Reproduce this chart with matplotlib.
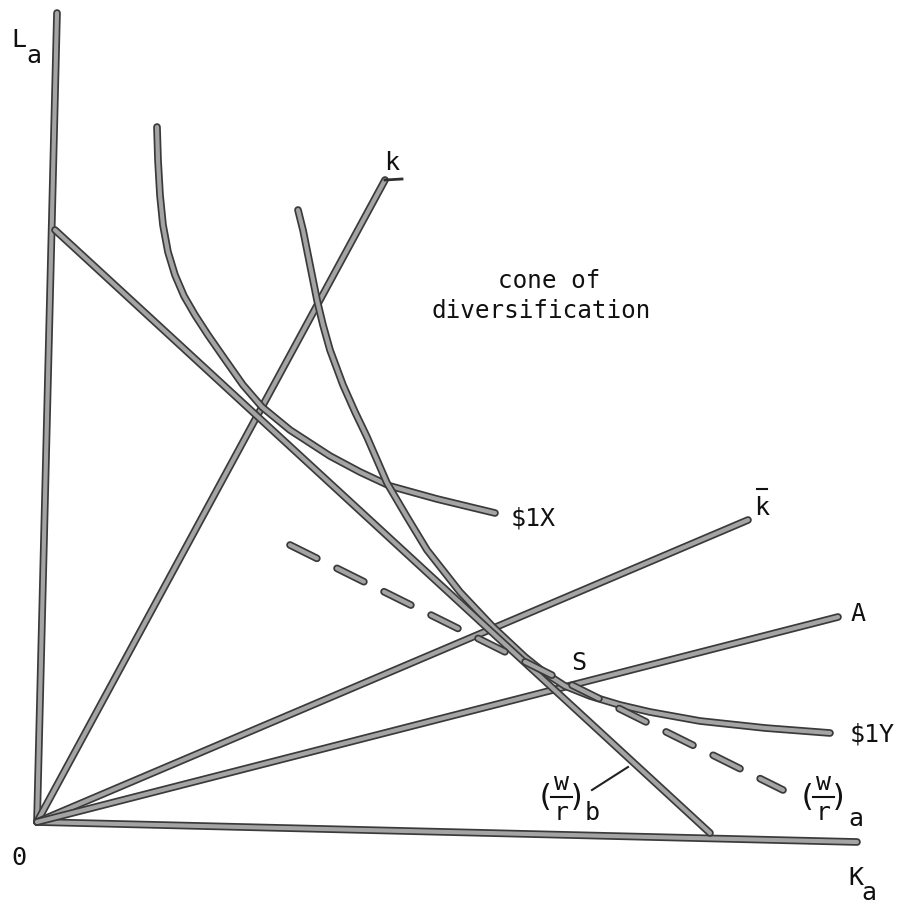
import matplotlib
matplotlib.use('Agg')
import matplotlib.pyplot as plt
import matplotlib.patheffects as pe

# positions (pixel-like units, y grows downward)
origin = (37, 822)
l_axis_top = (57, 13)
k_axis_end = (857, 842)

k_ray_end = (385, 180)
kbar_ray_end = (748, 520)
a_ray_end = (838, 617)

wr_b_x = [55, 710]
wr_b_y = [230, 833]

wr_a_x = [290, 783]
wr_a_y = [545, 790]

iso_x_x = [157, 158, 160, 163, 168, 175, 184, 195, 208, 224, 243, 262, 290, 330, 360, 390, 437, 470, 495]
iso_x_y = [127, 160, 195, 225, 252, 275, 296, 315, 335, 358, 385, 407, 430, 456, 472, 486, 499, 507, 513]

iso_y_x = [298, 303, 307, 312, 317, 323, 330, 343, 355, 367, 387, 407, 427, 460, 493, 525, 545, 565, 590, 620, 650, 700, 765, 830]
iso_y_y = [210, 230, 250, 275, 300, 325, 350, 385, 412, 437, 483, 517, 550, 592, 627, 657, 673, 686, 696, 705, 712, 721, 728, 733]

fig = plt.figure(figsize=(8.98, 9.05), dpi=100)
ax = fig.add_axes([0, 0, 1, 1])
ax.set_xlim(0, 898)
ax.set_ylim(905, 0)
ax.axis('off')

fx = [pe.Stroke(linewidth=5.5, foreground='#3a3a3a'), pe.Normal()]


def thick(xs, ys, **kw):
    ax.plot(xs, ys, color='#a4a4a4', lw=3, solid_capstyle='round',
            dash_capstyle='round', solid_joinstyle='round', path_effects=fx, **kw)


# axes of the diagram
thick([origin[0], l_axis_top[0]], [origin[1], l_axis_top[1]])
thick([origin[0], k_axis_end[0]], [origin[1], k_axis_end[1]])

# rays from the origin
for end in (k_ray_end, kbar_ray_end, a_ray_end):
    thick([origin[0], end[0]], [origin[1], end[1]])
ax.plot([k_ray_end[0], k_ray_end[0] + 17], [k_ray_end[1], k_ray_end[1] - 1],
        color='#2e2e2e', lw=2)

# isoquants
thick(iso_x_x, iso_x_y)
thick(iso_y_x, iso_y_y)

# factor price lines
thick(wr_b_x, wr_b_y)
thick(wr_a_x, wr_a_y, linestyle=(0, (7.2, 5.4)))

# pointer to (w/r)_b
ax.plot([592, 628], [790, 767], color='#222222', lw=1.5)

mono = 'DejaVu Sans Mono'
txt = dict(family=mono, color='#111111', ha='center', va='baseline')

ax.text(19, 47, 'L', fontsize=18, **txt)
ax.text(34, 63, 'a', fontsize=18, **txt)
ax.text(19, 865, '0', fontsize=18, **txt)
ax.text(856, 885, 'K', fontsize=18, **txt)
ax.text(869, 900, 'a', fontsize=18, **txt)

ax.text(392, 170, 'k', fontsize=18, **txt)
ax.text(762, 515, 'k', fontsize=18, **txt)
ax.plot([757, 767], [489, 489], color='#111111', lw=1.5)
ax.text(858, 621, 'A', fontsize=18, **txt)
ax.text(579, 670, 'S', fontsize=18, **txt)

ax.text(533, 525, '$1X', fontsize=18, parse_math=False, **txt)
ax.text(872, 741, '$1Y', fontsize=18, parse_math=False, **txt)

ax.text(549, 288, 'cone of', fontsize=17.5, **txt)
ax.text(541, 318, 'diversification', fontsize=17.5, **txt)


def wage_rental(cx, sub, sub_dx, sub_base):
    ax.text(cx - 16, 806, '(', fontsize=22, **txt)
    ax.text(cx, 790, 'w', fontsize=18, **txt)
    ax.plot([cx - 10, cx + 11], [797, 797], color='#111111', lw=1.5)
    ax.text(cx, 820, 'r', fontsize=18, **txt)
    ax.text(cx + 16, 806, ')', fontsize=22, **txt)
    ax.text(cx + sub_dx, sub_base, sub, fontsize=18, **txt)


wage_rental(561, 'b', 31, 820)
wage_rental(823, 'a', 33, 826)

fig.savefig('out.png', dpi=100, facecolor='white')
